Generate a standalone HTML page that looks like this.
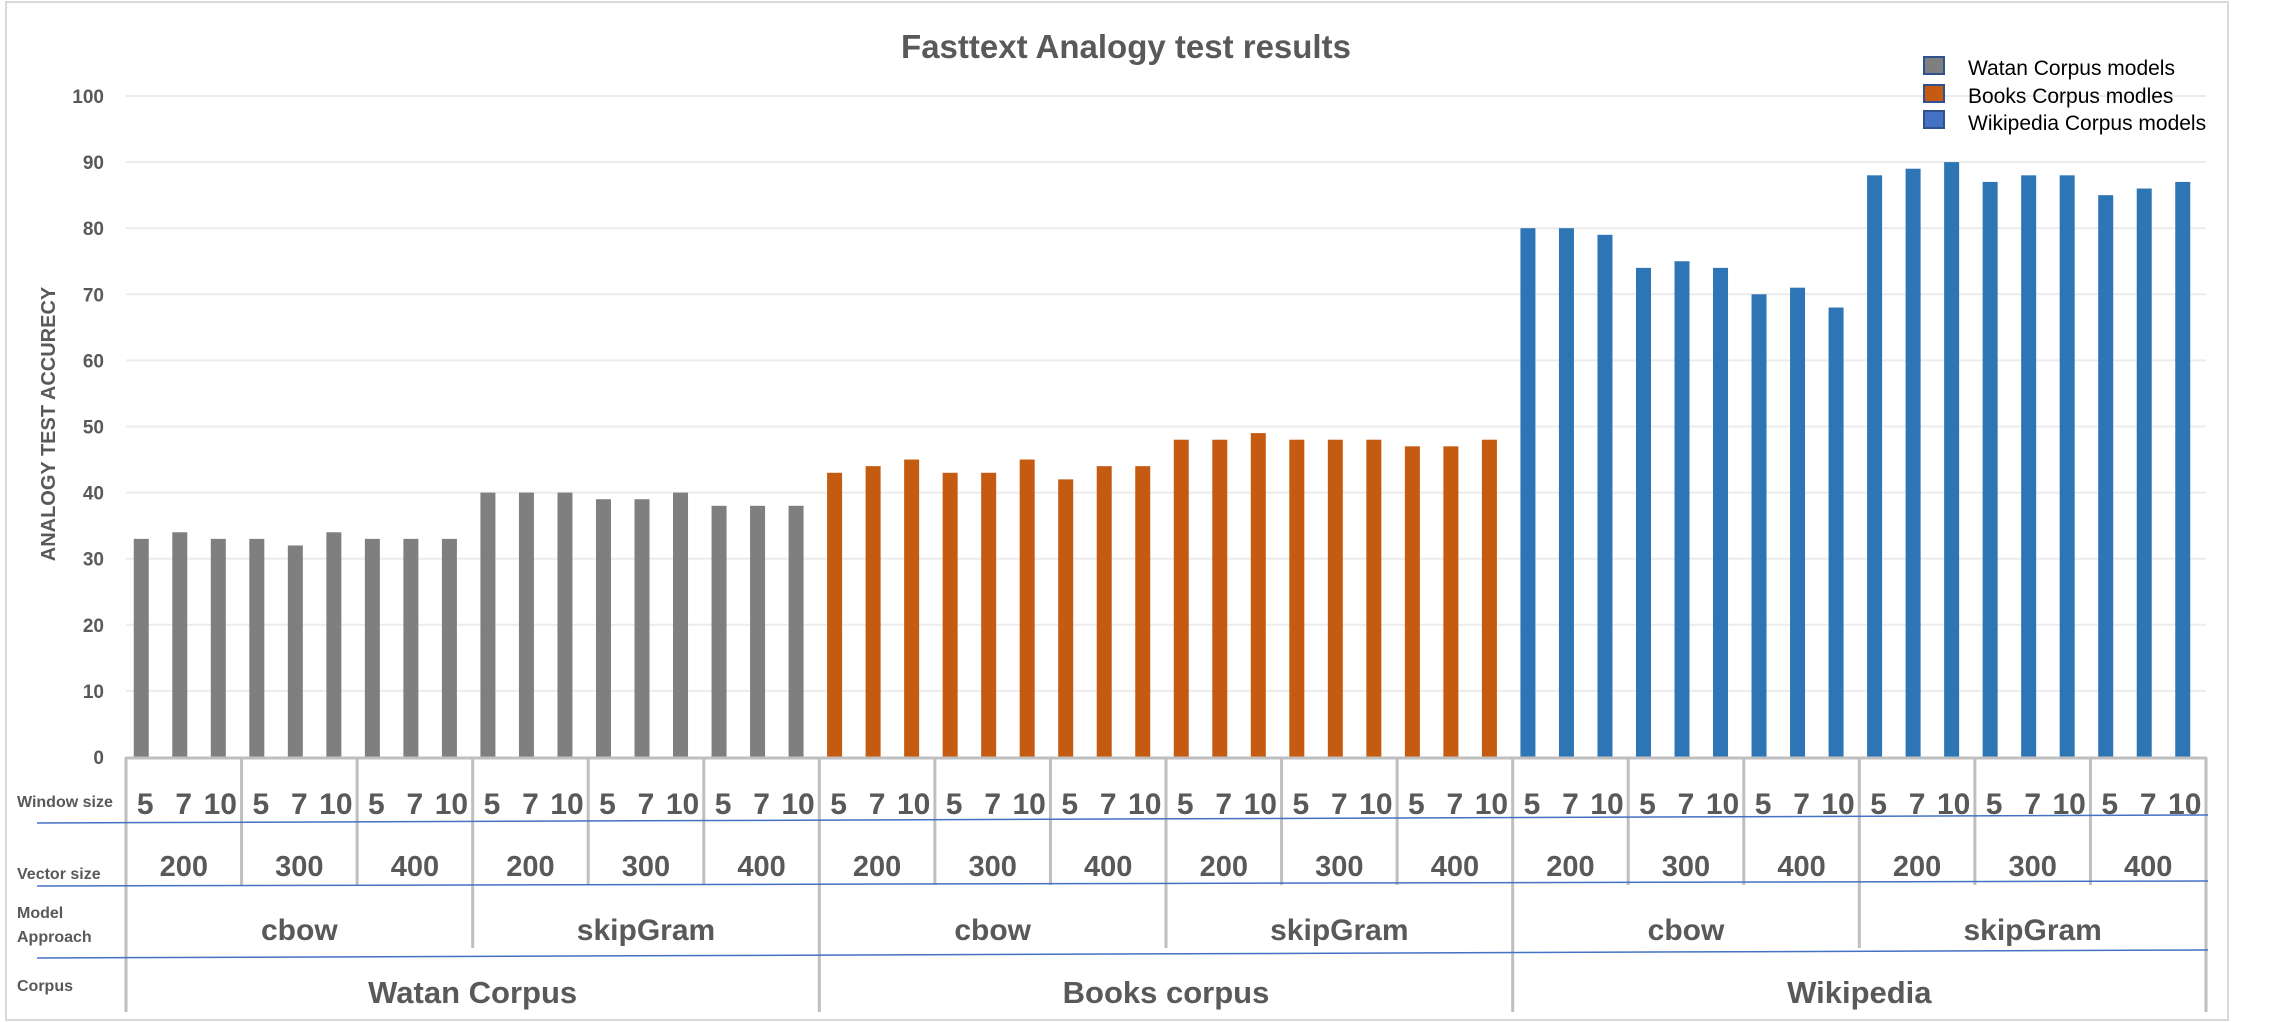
<!DOCTYPE html>
<html><head><meta charset="utf-8"><style>
html,body{margin:0;padding:0;background:#fff;}
svg{display:block;font-family:"Liberation Sans",sans-serif;}
</style></head><body>
<svg id="chart" width="2293" height="1022" viewBox="0 0 2293 1022">
<rect x="6" y="2" width="2222" height="1018" fill="#fff" stroke="#d9d9d9" stroke-width="2"/>
<text x="1126" y="58" text-anchor="middle" font-size="33" font-weight="bold" fill="#595959">Fasttext Analogy test results</text>
<text transform="translate(55,424) rotate(-90)" text-anchor="middle" font-size="20" font-weight="bold" fill="#595959">ANALOGY TEST ACCURECY</text>
<g id="grid"></g><g id="bars"></g><g id="axis"></g>
<g>
<rect x="1924" y="57" width="20" height="17" fill="#7f7f7f" stroke="#2f528f" stroke-width="2"/>
<text x="1968" y="75" font-size="21" fill="#000">Watan Corpus models</text>
<rect x="1924" y="85" width="20" height="17" fill="#c55a11" stroke="#2f528f" stroke-width="2"/>
<text x="1968" y="103" font-size="21" fill="#000">Books Corpus modles</text>
<rect x="1924" y="111" width="20" height="17" fill="#4472c4" stroke="#2f528f" stroke-width="2"/>
<text x="1968" y="130" font-size="21" fill="#000">Wikipedia Corpus models</text>
</g>
<g font-size="16" font-weight="bold" fill="#595959">
<text x="17" y="807">Window size</text>
<text x="17" y="879">Vector size</text>
<text x="17" y="918">Model</text>
<text x="17" y="942">Approach</text>
<text x="17" y="991">Corpus</text>
</g>
</svg>
<script>
const corpora = ["Watan Corpus","Books corpus","Wikipedia"];
const approaches = ["cbow","skipGram"];
const vectorSizes = ["200","300","400"];
const windowSizes = ["5","7","10"];
const watanValues = [33,34,33,33,32,34,33,33,33,40,40,40,39,39,40,38,38,38];
const booksValues = [43,44,45,43,43,45,42,44,44,48,48,49,48,48,48,47,47,48];
const wikiValues = [80,80,79,74,75,74,70,71,68,88,89,90,87,88,88,85,86,87];
const yTicks = [0,10,20,30,40,50,60,70,80,90,100];

const NS="http://www.w3.org/2000/svg";
const X0=126, X1=2206, Y0=757, Y100=96;
const series=[watanValues,booksValues,wikiValues];
const colors=["#7f7f7f","#c55a11","#2e75b6"];
const N=series.reduce((a,s)=>a+s.length,0);
const cw=(X1-X0)/N;
function yS(v){return Y0-(Y0-Y100)*v/100;}
function xS(i){return X0+cw*(i+0.5)-4;}
function mk(tag,attrs,parent,txt){const e=document.createElementNS(NS,tag);for(const k in attrs)e.setAttribute(k,attrs[k]);if(txt!==undefined)e.textContent=txt;parent.appendChild(e);return e;}
const grid=document.getElementById('grid'),bars=document.getElementById('bars'),axis=document.getElementById('axis');
yTicks.forEach(t=>{
  if(t>0){const l=mk('line',{x1:X0,x2:X1,y1:yS(t),y2:yS(t),stroke:'#ececec','stroke-width':2},grid);
  
  }
  const tx=mk('text',{x:104,y:yS(t)+7,'text-anchor':'end','font-size':19,'font-weight':'bold',fill:'#595959'},axis,String(t));
  
  
});
let idx=0;
series.forEach((s,ci)=>{s.forEach((v,j)=>{
  const r=mk('rect',{x:xS(idx)-7.5,y:yS(v),width:15,height:Y0-yS(v),fill:colors[ci]},bars);
  
  
  const w=windowSizes[j%3];
  const t=mk('text',{x:X0+cw*(idx+0.5)+(w==="10"?-2:0),y:814,'text-anchor':'middle','font-size':30,'font-weight':'bold',fill:'#595959'},axis,w);
  
  
  idx++;
});});
// baseline
const bl=mk('line',{x1:X0,x2:X1,y1:Y0+1,y2:Y0+1,stroke:'#bfbfbf','stroke-width':3},axis);


const G=3*cw;
for(let g=0;g<=N/3;g++){
  const x=X0+g*G; let yb=885;
  if(g%3===0)yb=948; if(g%6===0)yb=1012;
  const l=mk('line',{x1:x,x2:x,y1:Y0,y2:yb,stroke:'#bfbfbf','stroke-width':3},axis);
  
  
  if(g<N/3){
    const t=mk('text',{x:x+G/2,y:876,'text-anchor':'middle','font-size':29,'font-weight':'bold',fill:'#595959'},axis,vectorSizes[g%3]);
    
    
  }
}
for(let a=0;a<N/9;a++){
  const t=mk('text',{x:X0+a*3*G+1.5*G,y:940,'text-anchor':'middle','font-size':30,'font-weight':'bold',fill:'#595959'},axis,approaches[a%2]);
  
  
}
corpora.forEach((c,k)=>{
  const t=mk('text',{x:X0+k*6*G+3*G,y:1003,'text-anchor':'middle','font-size':31,'font-weight':'bold',fill:'#595959'},axis,c);
  
  
});
[[37,823,2208,815],[37,886,2208,881],[37,958,2208,950]].forEach(p=>{
  const l=mk('line',{x1:p[0],y1:p[1],x2:p[2],y2:p[3],stroke:'#4472c4','stroke-width':1.5},axis);
  
  
});
</script>
</body></html>
